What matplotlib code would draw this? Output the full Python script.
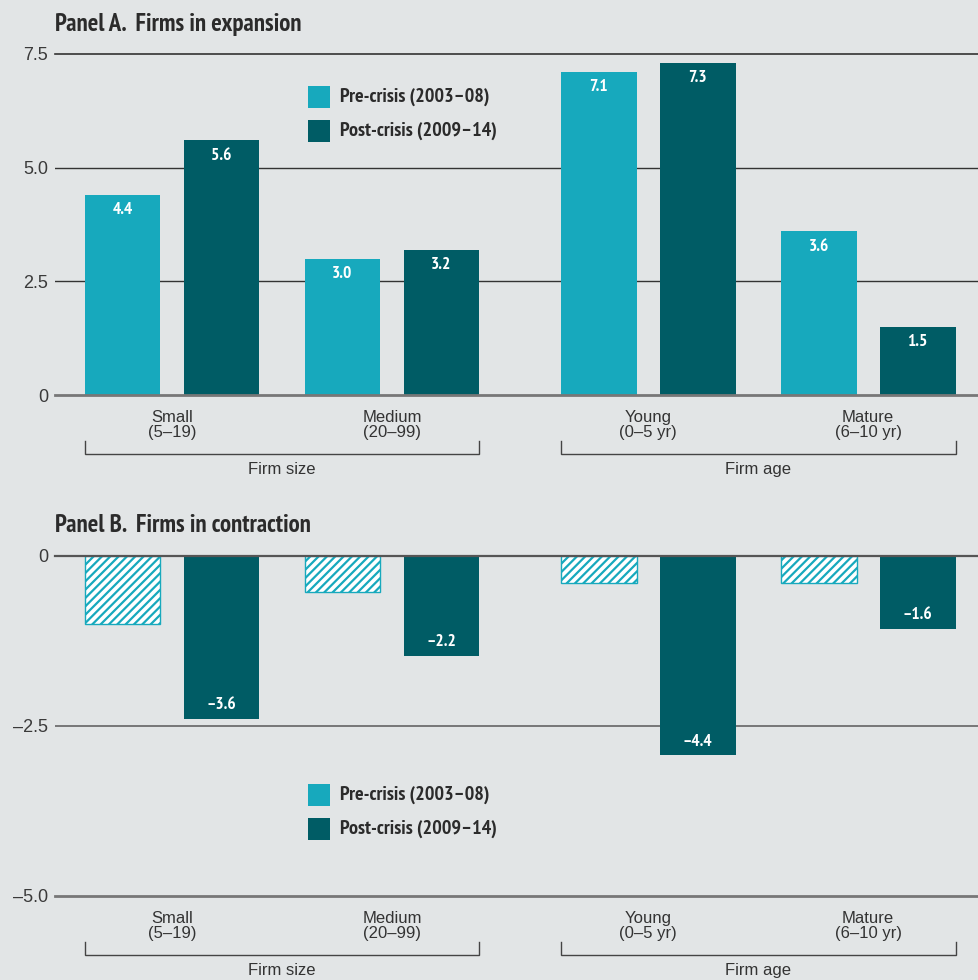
import matplotlib
matplotlib.use("Agg")
import matplotlib.pyplot as plt
import matplotlib.transforms as mtransforms
from matplotlib.patches import Rectangle
import numpy as np

# ---------------- data ----------------
categories = ["Small\n(5–19)", "Medium\n(20–99)", "Young\n(0–5 yr)", "Mature\n(6–10 yr)"]
group_labels = ["Firm size", "Firm age"]
series_names = ["Pre-crisis (2003–08)", "Post-crisis (2009–14)"]

expansion_pre = [4.4, 3.0, 7.1, 3.6]
expansion_post = [5.6, 3.2, 7.3, 1.5]

contraction_pre = [-1.5, -0.8, -0.6, -0.6]      # unlabelled (hatched) bars, estimated
contraction_post = [-3.6, -2.2, -4.4, -1.6]

ticks_a = [0, 2.5, 5.0, 7.5]
ticklabels_a = ["0", "2.5", "5.0", "7.5"]
# panel B's printed tick labels sit where the bars' own scale puts 0, -3.75, -7.5
ticks_b = [0, -3.75, -7.5]
ticklabels_b = ["0", "–2.5", "–5.0"]

# ---------------- style ----------------
BG = "#e2e5e6"
PRE = "#17a9bd"
POST = "#005c65"
TXT = "#2b2b2b"
COND = ["PT Sans Narrow", "DejaVu Sans"]
REG = ["Liberation Sans", "DejaVu Sans"]

plt.rcParams["hatch.linewidth"] = 1.6

W, H = 979, 980
fig = plt.figure(figsize=(W / 100, H / 100), dpi=100, facecolor=BG)

x_groups = np.array([0.0, 1.0, 2.164, 3.164])
off = 0.225
bw = 0.345
xlim = (-0.532, 3.668)


def px_to_fig(y_px):
    return 1 - y_px / H


ax_a = fig.add_axes([55 / W, px_to_fig(395), 1 - 55 / W, (395 - 54) / H])
ax_b = fig.add_axes([55 / W, px_to_fig(896), 1 - 55 / W, (896 - 556) / H])

for ax in (ax_a, ax_b):
    ax.set_facecolor(BG)
    ax.set_xlim(*xlim)
    for s in ax.spines.values():
        s.set_visible(False)
    ax.set_xticks([])
    ax.tick_params(axis="y", length=0, pad=5, labelsize=13, labelcolor="#3a3a3a")

# ---------------- Panel A ----------------
ax_a.set_ylim(0, 7.5)
ax_a.set_yticks(ticks_a)
ax_a.set_yticklabels(ticklabels_a, family=REG, fontsize=13, color="#3a3a3a")
for t in [2.5, 5.0]:
    ax_a.axhline(t, color="#333333", lw=1.0, zorder=1)
ax_a.axhline(7.5, color="#333333", lw=1.2, zorder=1, clip_on=False)
ax_a.axhline(0, color="#777777", lw=2.0, zorder=3, clip_on=False)

bars_pre = ax_a.bar(x_groups - off, expansion_pre, bw, color=PRE, zorder=2)
bars_post = ax_a.bar(x_groups + off, expansion_post, bw, color=POST, zorder=2)
for bars, vals in ((bars_pre, expansion_pre), (bars_post, expansion_post)):
    for b, v in zip(bars, vals):
        ax_a.annotate(f"{v:.1f}", (b.get_x() + b.get_width() / 2, v),
                      xytext=(0, -11), textcoords="offset points",
                      ha="center", va="center", color="white",
                      fontsize=12.5, fontweight="bold", family=COND, zorder=4)

# ---------------- Panel B ----------------
ax_b.set_ylim(-7.5, 0)
ax_b.set_yticks(ticks_b)
ax_b.set_yticklabels(ticklabels_b, family=REG, fontsize=13, color="#3a3a3a")
ax_b.axhline(-3.75, color="#777777", lw=1.4, zorder=1)
ax_b.axhline(-7.5, color="#777777", lw=2.0, zorder=1, clip_on=False)
ax_b.axhline(0, color="#555555", lw=1.6, zorder=3, clip_on=False)

hb = ax_b.bar(x_groups - off, contraction_pre, bw, facecolor="white",
              edgecolor=PRE, hatch="////", lw=1.0, zorder=2)
pb = ax_b.bar(x_groups + off, contraction_post, bw, color=POST, zorder=2)
for b, v in zip(pb, contraction_post):
    ax_b.annotate(f"–{abs(v):.1f}", (b.get_x() + b.get_width() / 2, v),
                  xytext=(0, 10), textcoords="offset points",
                  ha="center", va="center", color="white",
                  fontsize=12.5, fontweight="bold", family=COND, zorder=4)

# ---------------- titles ----------------
fig.text(55 / W, px_to_fig(24), "Panel A.  Firms in expansion", ha="left", va="center",
         fontsize=17.8, fontweight="bold", family=COND, color=TXT)
fig.text(55 / W, px_to_fig(526), "Panel B.  Firms in contraction", ha="left", va="center",
         fontsize=17.8, fontweight="bold", family=COND, color=TXT)

# ---------------- legends ----------------
def legend(y_rows_px):
    for name, col, yp in zip(series_names, [PRE, POST], y_rows_px):
        yf = px_to_fig(yp)
        fig.patches.append(Rectangle((308 / W, yf - 11 / H), 22 / W, 22 / H,
                                     transform=fig.transFigure, facecolor=col,
                                     edgecolor="none"))
        fig.text(340 / W, yf, name, ha="left", va="center", fontsize=14.5,
                 fontweight="bold", family=COND, color=TXT)


legend([97, 131])
legend([795, 829])

# ---------------- category labels and brackets ----------------
def xaxis_labels(ax):
    trans = mtransforms.blended_transform_factory(ax.transData, ax.transAxes)
    h_px = ax.get_position().height * H

    def fy(dpx):
        return -dpx / h_px
    for xg, lab in zip(x_groups, categories):
        ax.text(xg, fy(30), lab, transform=trans, ha="center", va="center",
                fontsize=12, family=REG, color="#333333", linespacing=1.0)
    pairs = [(0, 1), (2, 3)]
    for (i, j), g in zip(pairs, group_labels):
        x0 = x_groups[i] - off - bw / 2
        x1 = x_groups[j] + off + bw / 2
        ax.plot([x0, x0, x1, x1], [fy(46), fy(59), fy(59), fy(46)], transform=trans,
                color="#444444", lw=1.0, clip_on=False, solid_joinstyle="miter")
        ax.text((x0 + x1) / 2, fy(74), g, transform=trans, ha="center", va="center",
                fontsize=12, family=REG, color="#333333")


xaxis_labels(ax_a)
xaxis_labels(ax_b)

fig.savefig("out.png", dpi=100, facecolor=BG)
